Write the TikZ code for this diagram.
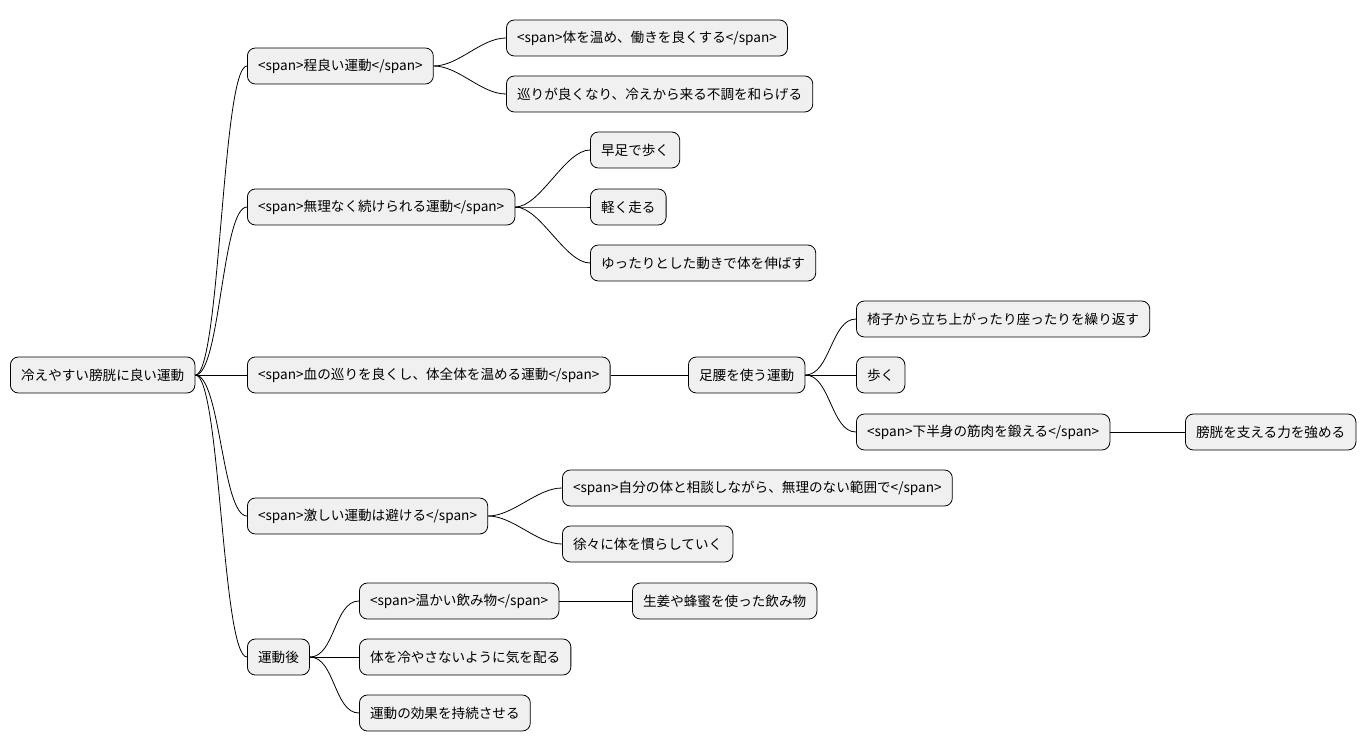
\documentclass[tikz,border=0pt]{standalone}
\usepackage{fontspec}
\setmainfont{Noto Sans CJK JP}
\begin{document}
\begin{tikzpicture}[x=0.75pt,y=-0.75pt,
  mn/.style={draw=black,fill=black!6,rounded corners=6pt,minimum height=27pt,inner xsep=8pt,anchor=west,font=\fontsize{10.2pt}{12pt}\selectfont,line width=0.6pt},
  ln/.style={line width=0.6pt}]
\useasboundingbox (0,0) rectangle (1370,752);
\newcommand\edg[2]{\draw[ln] (#1.east) .. controls +(25,0) and +(-25,0) .. (#2.west);}
\node[mn] (r) at (10,375) {冷えやすい膀胱に良い運動};
\node[mn] (a) at (247,66) {<span>程良い運動</span>};
\node[mn] (b) at (247,207) {<span>無理なく続けられる運動</span>};
\node[mn] (c) at (247,375) {<span>血の巡りを良くし、体全体を温める運動</span>};
\node[mn] (d) at (247,516) {<span>激しい運動は避ける</span>};
\node[mn] (e) at (247,657) {運動後};
\node[mn] (a1) at (506,38) {<span>体を温め、働きを良くする</span>};
\node[mn] (a2) at (506,94) {巡りが良くなり、冷えから来る不調を和らげる};
\node[mn] (b1) at (590,150) {早足で歩く};
\node[mn] (b2) at (590,207) {軽く走る};
\node[mn] (b3) at (590,263) {ゆったりとした動きで体を伸ばす};
\node[mn] (c1) at (688,375) {足腰を使う運動};
\node[mn] (c11) at (856,319) {椅子から立ち上がったり座ったりを繰り返す};
\node[mn] (c12) at (856,375) {歩く};
\node[mn] (c13) at (856,432) {<span>下半身の筋肉を鍛える</span>};
\node[mn] (c131) at (1185,432) {膀胱を支える力を強める};
\node[mn] (d1) at (562,488) {<span>自分の体と相談しながら、無理のない範囲で</span>};
\node[mn] (d2) at (562,544) {徐々に体を慣らしていく};
\node[mn] (e1) at (359,601) {<span>温かい飲み物</span>};
\node[mn] (e11) at (632,601) {生姜や蜂蜜を使った飲み物};
\node[mn] (e2) at (359,657) {体を冷やさないように気を配る};
\node[mn] (e3) at (359,713) {運動の効果を持続させる};
\edg{r}{a}\edg{r}{b}\edg{r}{c}\edg{r}{d}\edg{r}{e}
\edg{a}{a1}\edg{a}{a2}
\edg{b}{b1}\edg{b}{b2}\edg{b}{b3}
\draw[ln] (c.east) -- (c1.west);
\edg{c1}{c11}\edg{c1}{c12}\edg{c1}{c13}
\draw[ln] (c13.east) -- (c131.west);
\edg{d}{d1}\edg{d}{d2}
\edg{e}{e1}\edg{e}{e2}\edg{e}{e3}
\draw[ln] (e1.east) -- (e11.west);
\end{tikzpicture}
\end{document}
